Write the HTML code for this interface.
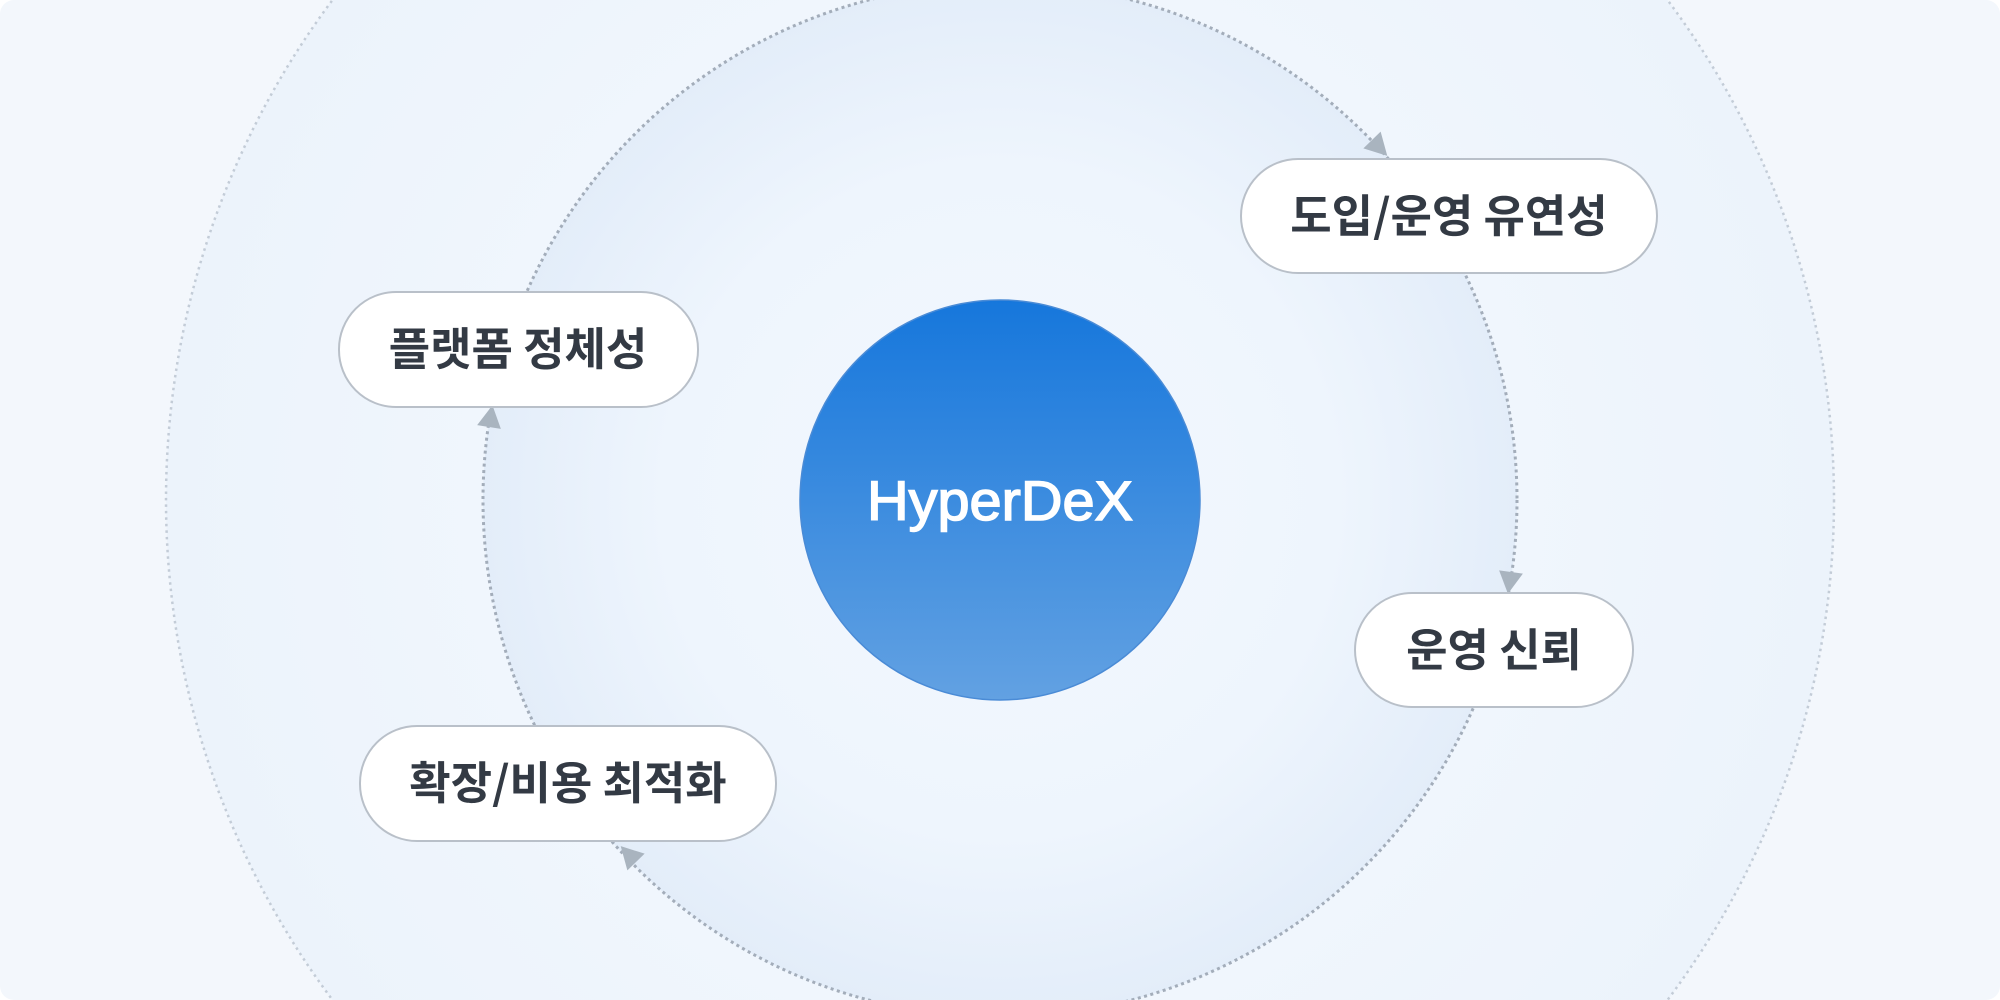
<!DOCTYPE html>
<html><head><meta charset="utf-8"><style>
html,body{margin:0;padding:0;width:2000px;height:1000px;overflow:hidden;background:#fff}
svg{display:block;position:absolute;left:0;top:0}
</style></head><body>
<svg width="2000" height="1000" viewBox="0 0 2000 1000" xmlns="http://www.w3.org/2000/svg">
<defs>
<radialGradient id="inner" cx="1000" cy="500" r="517" gradientUnits="userSpaceOnUse">
<stop offset="0" stop-color="#f3f8fe"/><stop offset="0.65" stop-color="#eef5fd"/><stop offset="1" stop-color="#e3edf9"/>
</radialGradient>
<radialGradient id="outer" cx="1000" cy="500" r="834" gradientUnits="userSpaceOnUse">
<stop offset="0.6" stop-color="#f0f6fd"/><stop offset="1" stop-color="#ecf3fb"/>
</radialGradient>
<linearGradient id="core" x1="0" y1="0" x2="0" y2="1">
<stop offset="0" stop-color="#1677dc"/><stop offset="1" stop-color="#62a1e2"/>
</linearGradient>
</defs>
<rect x="0" y="0" width="2000" height="1000" rx="14" fill="#f3f7fc"/>
<circle cx="1000" cy="500" r="834" fill="url(#outer)" stroke="#c3ccd7" stroke-width="2.5" stroke-dasharray="2.5 4"/>
<circle cx="1000" cy="500" r="517" fill="url(#inner)" stroke="#a3adba" stroke-width="3" stroke-dasharray="3 3.5"/>
<circle cx="1000" cy="500" r="200" fill="url(#core)" stroke="#4a8bd6" stroke-width="1.5"/>
<text x="1000" y="520" text-anchor="middle" font-family="Liberation Sans, sans-serif" font-size="56" fill="#fff" stroke="#fff" stroke-width="1.5" textLength="266" lengthAdjust="spacingAndGlyphs">HyperDeX</text>
<g fill="#a9b4bf">
<polygon points="0,-12 22,0 0,12" transform="translate(1372,140) rotate(46)"/>
<polygon points="0,-12 22,0 0,12" transform="translate(1511,572) rotate(98)"/>
<polygon points="0,-12 22,0 0,12" transform="translate(636,862) rotate(226)"/>
<polygon points="0,-12 22,0 0,12" transform="translate(489,427) rotate(279)"/>
</g>
<g fill="#fff" stroke="#b9c0c9" stroke-width="2">
<rect x="1241" y="159" width="416" height="114" rx="57"/>
<rect x="1355" y="593" width="278" height="114" rx="57"/>
<rect x="360" y="726" width="416" height="115" rx="57"/>
<rect x="339" y="292" width="359" height="115" rx="57"/>
</g>
<g font-family="'Noto Sans CJK KR', sans-serif" font-size="45" font-weight="bold" fill="#333a44" text-anchor="middle">
<text x="1449" y="232">도입/운영 유연성</text>
<text x="1494" y="666">운영 신뢰</text>
<text x="568" y="799">확장/비용 최적화</text>
<text x="518" y="365">플랫폼 정체성</text>
</g>
</svg>
</body></html>
